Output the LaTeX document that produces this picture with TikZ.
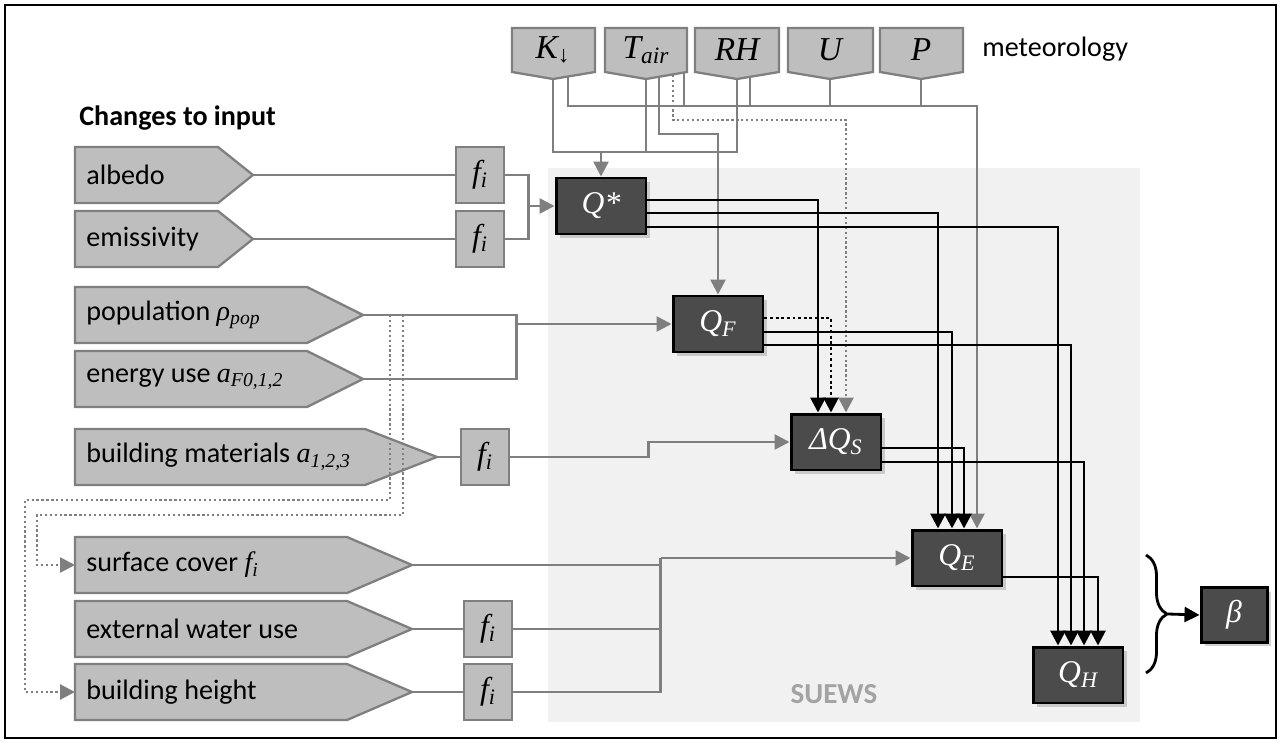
\documentclass[tikz,border=0pt]{standalone}
\usepackage{fontspec}
\setmainfont{Carlito}
\newfontfamily\symfont{Liberation Serif}
\usepackage{tikz}
\usetikzlibrary{arrows.meta,calc,shadows,decorations.pathreplacing}
\definecolor{SWShape}{HTML}{BEBEBE}
\definecolor{SWEdge}{HTML}{7F7F7F}
\definecolor{SWDark}{HTML}{4B4B4B}
\definecolor{SWPanel}{HTML}{F1F1F1}
\definecolor{SWLabel}{HTML}{A3A3A3}
\tikzset{
  inshape/.style={fill=SWShape,draw=SWEdge,line width=1.3pt},
  intext/.style={anchor=west,inner xsep=0.22cm,inner ysep=0pt,font=\fontsize{16}{19}\selectfont},
  mettext/.style={inner sep=0pt,font=\symfont\itshape\fontsize{19}{21}\selectfont},
  fibox/.style={fill=SWShape,draw=SWEdge,line width=1.3pt,minimum width=0.96cm,minimum height=1.12cm,inner sep=0pt,font=\symfont\itshape\fontsize{18}{20}\selectfont},
  flux/.style={fill=SWDark,draw=black,line width=1.7pt,minimum width=1.8cm,minimum height=1.12cm,inner sep=0pt,text=white,
    font=\symfont\itshape\fontsize{18}{20}\selectfont,drop shadow={shadow xshift=0.08cm,shadow yshift=-0.08cm,opacity=0.35}},
  gline/.style={draw=SWEdge,line width=1.5pt},
  gdot/.style={gline,dash pattern=on 1.3pt off 1.5pt},
  bline/.style={draw=black,line width=1.6pt},
  bdot/.style={bline,dash pattern=on 1.6pt off 1.6pt},
  arr/.style={-{Triangle[length=0.3cm,width=0.3cm]}}
}
\begin{document}
\begin{tikzpicture}[x=0.02cm,y=-0.02cm]
\path[use as bounding box] (0,0) rectangle (1281,743);
\fill[white] (0,0) rectangle (1281,743);
\fill[SWPanel] (548,168) rectangle (1140,722);
\draw[line width=1.4pt] (5,5) rectangle (1276,738);
\node[text=SWLabel,font=\bfseries\fontsize{16.5}{19}\selectfont] (suews) at (834,694) {SUEWS};
\node[anchor=west,inner sep=0pt,font=\bfseries\fontsize{16}{19}\selectfont] (chg) at (79,118) {Changes to input};
\node[anchor=west,inner sep=0pt,font=\fontsize{16}{19}\selectfont] (meteo) at (982,49) {meteorology};

% meteorology
\filldraw[inshape] (512,28) -- (595,28) -- (595,72) -- (553,79) -- (512,72) -- cycle;
\filldraw[inshape] (605,28) -- (687,28) -- (687,72) -- (646,79) -- (605,72) -- cycle;
\filldraw[inshape] (695,28) -- (779,28) -- (779,72) -- (737,79) -- (695,72) -- cycle;
\filldraw[inshape] (788,28) -- (873,28) -- (873,72) -- (830,79) -- (788,72) -- cycle;
\filldraw[inshape] (880,28) -- (963,28) -- (963,72) -- (921,79) -- (880,72) -- cycle;
\node[mettext] (kdown) at (553,50) {K\textsubscript{↓}};
\node[mettext] (tair) at (646,50) {T\textsubscript{air}};
\node[mettext] (rh) at (737,50) {RH};
\node[mettext] (wind) at (830,50) {U};
\node[mettext] (press) at (921,50) {P};
\coordinate (kdown-tip) at (553,79);
\coordinate (tair-tip) at (646,79);
\coordinate (rh-tip) at (737,79);
\coordinate (wind-tip) at (830,79);
\coordinate (press-tip) at (921,79);

% changes to input
\filldraw[inshape] (75,147) -- (218,147) -- (253,175) -- (218,203) -- (75,203) -- cycle;
\filldraw[inshape] (75,211) -- (218,211) -- (253,239) -- (218,267) -- (75,267) -- cycle;
\filldraw[inshape] (75,287) -- (307,287) -- (363,315) -- (307,343) -- (75,343) -- cycle;
\filldraw[inshape] (75,351) -- (307,351) -- (363,379) -- (307,407) -- (75,407) -- cycle;
\filldraw[inshape] (75,429) -- (365,429) -- (437,457) -- (365,485) -- (75,485) -- cycle;
\filldraw[inshape] (75,537) -- (347,537) -- (412,565) -- (347,593) -- (75,593) -- cycle;
\filldraw[inshape] (75,601) -- (347,601) -- (412,629) -- (347,657) -- (75,657) -- cycle;
\filldraw[inshape] (75,664) -- (347,664) -- (412,692) -- (347,720) -- (75,720) -- cycle;
\node[intext] (albedo) at (75,175) {albedo};
\node[intext] (emis) at (75,239) {emissivity};
\node[intext] (pop) at (75,315) {population {\symfont\itshape ρ\textsubscript{pop}}};
\node[intext] (energy) at (75,379) {energy use {\symfont\itshape a\textsubscript{F0,1,2}}};
\node[intext] (bmat) at (75,457) {building materials {\symfont\itshape a\textsubscript{1,2,3}}};
\node[intext] (scover) at (75,565) {surface cover {\symfont\itshape f\textsubscript{i}}};
\node[intext] (water) at (75,629) {external water use};
\node[intext] (bheight) at (75,692) {building height};
\coordinate (albedo-tip) at (253,175);
\coordinate (emis-tip) at (253,239);
\coordinate (pop-tip) at (363,315);
\coordinate (energy-tip) at (363,379);
\coordinate (bmat-tip) at (437,457);
\coordinate (scover-tip) at (412,565);
\coordinate (water-tip) at (412,629);
\coordinate (bheight-tip) at (412,692);
\node[fibox] (f-albedo) at (480,175) {f\textsubscript{i}};
\node[fibox] (f-emis) at (480,239) {f\textsubscript{i}};
\node[fibox] (f-bmat) at (485,457) {f\textsubscript{i}};
\node[fibox] (f-water) at (488,629) {f\textsubscript{i}};
\node[fibox] (f-bheight) at (488,692) {f\textsubscript{i}};

% SUEWS fluxes
\node[flux] (qstar) at (601,206) {Q*};
\node[flux] (qf) at (718,324) {Q\textsubscript{F}};
\node[flux] (dqs) at (836,442) {ΔQ\textsubscript{S}};
\node[flux] (qe) at (957,558) {Q\textsubscript{E}};
\node[flux] (qh) at (1078,675) {Q\textsubscript{H}};
\node[flux,minimum width=1.32cm,minimum height=1.1cm] (beta) at (1234,615) {β};
\coordinate (dqs-a) at ($(dqs.north)+(-18,0)$);
\coordinate (dqs-b) at ($(dqs.north)+(-5,0)$);
\coordinate (dqs-c) at ($(dqs.north)+(10,0)$);
\coordinate (qe-a) at ($(qe.north)+(-19,0)$);
\coordinate (qe-b) at ($(qe.north)+(-5,0)$);
\coordinate (qe-c) at ($(qe.north)+(7,0)$);
\coordinate (qe-d) at ($(qe.north)+(20,0)$);
\coordinate (qh-a) at ($(qh.north)+(-20,0)$);
\coordinate (qh-b) at ($(qh.north)+(-7,0)$);
\coordinate (qh-c) at ($(qh.north)+(6,0)$);
\coordinate (qh-d) at ($(qh.north)+(20,0)$);

% meteorology connectors
\draw[gline] (kdown-tip) |- (rh-tip |- 0,152) -- (rh-tip);
\draw[gline] (tair-tip) -- (tair-tip |- 0,152);
\draw[gline,arr] (qstar.north |- 0,152) -- (qstar.north);
\draw[gline,arr] ($(kdown-tip)+(15,-2)$) |- (qe-d |- 0,106) -- (qe-d);
\draw[gline] ($(tair-tip)+(38,-6)$) coordinate (t3) -- (t3 |- 0,106);
\draw[gline] ($(rh-tip)+(13,-2)$) coordinate (r2) -- (r2 |- 0,106);
\draw[gline] (wind-tip) -- (wind-tip |- 0,106);
\draw[gline] (press-tip) |- (qe-d |- 0,106);
\draw[gline,arr] ($(tair-tip)+(13,-2)$) |- (qf.north |- 0,134) -- (qf.north);
\draw[gdot,arr] ($(tair-tip)+(27,-4)$) |- (dqs-c |- 0,120) -- (dqs-c);

% input connectors
\draw[gline] (albedo-tip) -- (f-albedo);
\draw[gline] (emis-tip) -- (f-emis);
\draw[gline] (f-albedo.east) -| ($(qstar.west)+(-26,0)$) |- (f-emis.east);
\draw[gline,arr] ($(qstar.west)+(-26,0)$) -- (qstar.west);
\draw[gline] (pop-tip) -| ($(qf.west)+(-155,0)$) |- (energy-tip);
\draw[gline,arr] ($(qf.west)+(-155,0)$) -- (qf.west);
\draw[gline] (bmat-tip) -- (f-bmat);
\draw[gline,arr] (f-bmat.east) -| ($(dqs.west)+(-141,0)$) |- (dqs.west);
\draw[gline] (water-tip) -- (f-water);
\draw[gline] (bheight-tip) -- (f-bheight);
\draw[gline] (scover-tip) -| ($(qe.west)+(-250,0)$);
\draw[gline] (f-water.east) -| ($(qe.west)+(-250,0)$);
\draw[gline] (f-bheight.east) -| ($(qe.west)+(-250,0)$);
\draw[gline,arr] ($(qe.west)+(-250,0)$) -- (qe.west);
\draw[gdot,arr] ($(pop-tip)+(27,0)$) |- (25,500) |- (bheight.west);
\draw[gdot,arr] ($(pop-tip)+(40,0)$) |- (37,515) |- (scover.west);

% flux connectors
\draw[bline,arr] ($(qstar.east)+(0,-6)$) -| (dqs-a);
\draw[bline,arr] ($(qstar.east)+(0,7)$) -| (qe-a);
\draw[bline,arr] ($(qstar.east)+(0,21)$) -| (qh-a);
\draw[bdot,arr] ($(qf.east)+(0,-6)$) -| (dqs-b);
\draw[bline,arr] ($(qf.east)+(0,8)$) -| (qe-b);
\draw[bline,arr] ($(qf.east)+(0,21)$) -| (qh-b);
\draw[bline,arr] ($(dqs.east)+(0,6)$) -| (qe-c);
\draw[bline,arr] ($(dqs.east)+(0,20)$) -| (qh-c);
\draw[bline,arr] ($(qe.east)+(0,19)$) -| (qh-d);
\draw[bline,decorate,decoration={brace,amplitude=0.42cm}] (1146,555) -- (1146,673);
\coordinate (brace-tip) at (1168,614);
\draw[bline,arr] (brace-tip) -- (beta.west);
\end{tikzpicture}
\end{document}
